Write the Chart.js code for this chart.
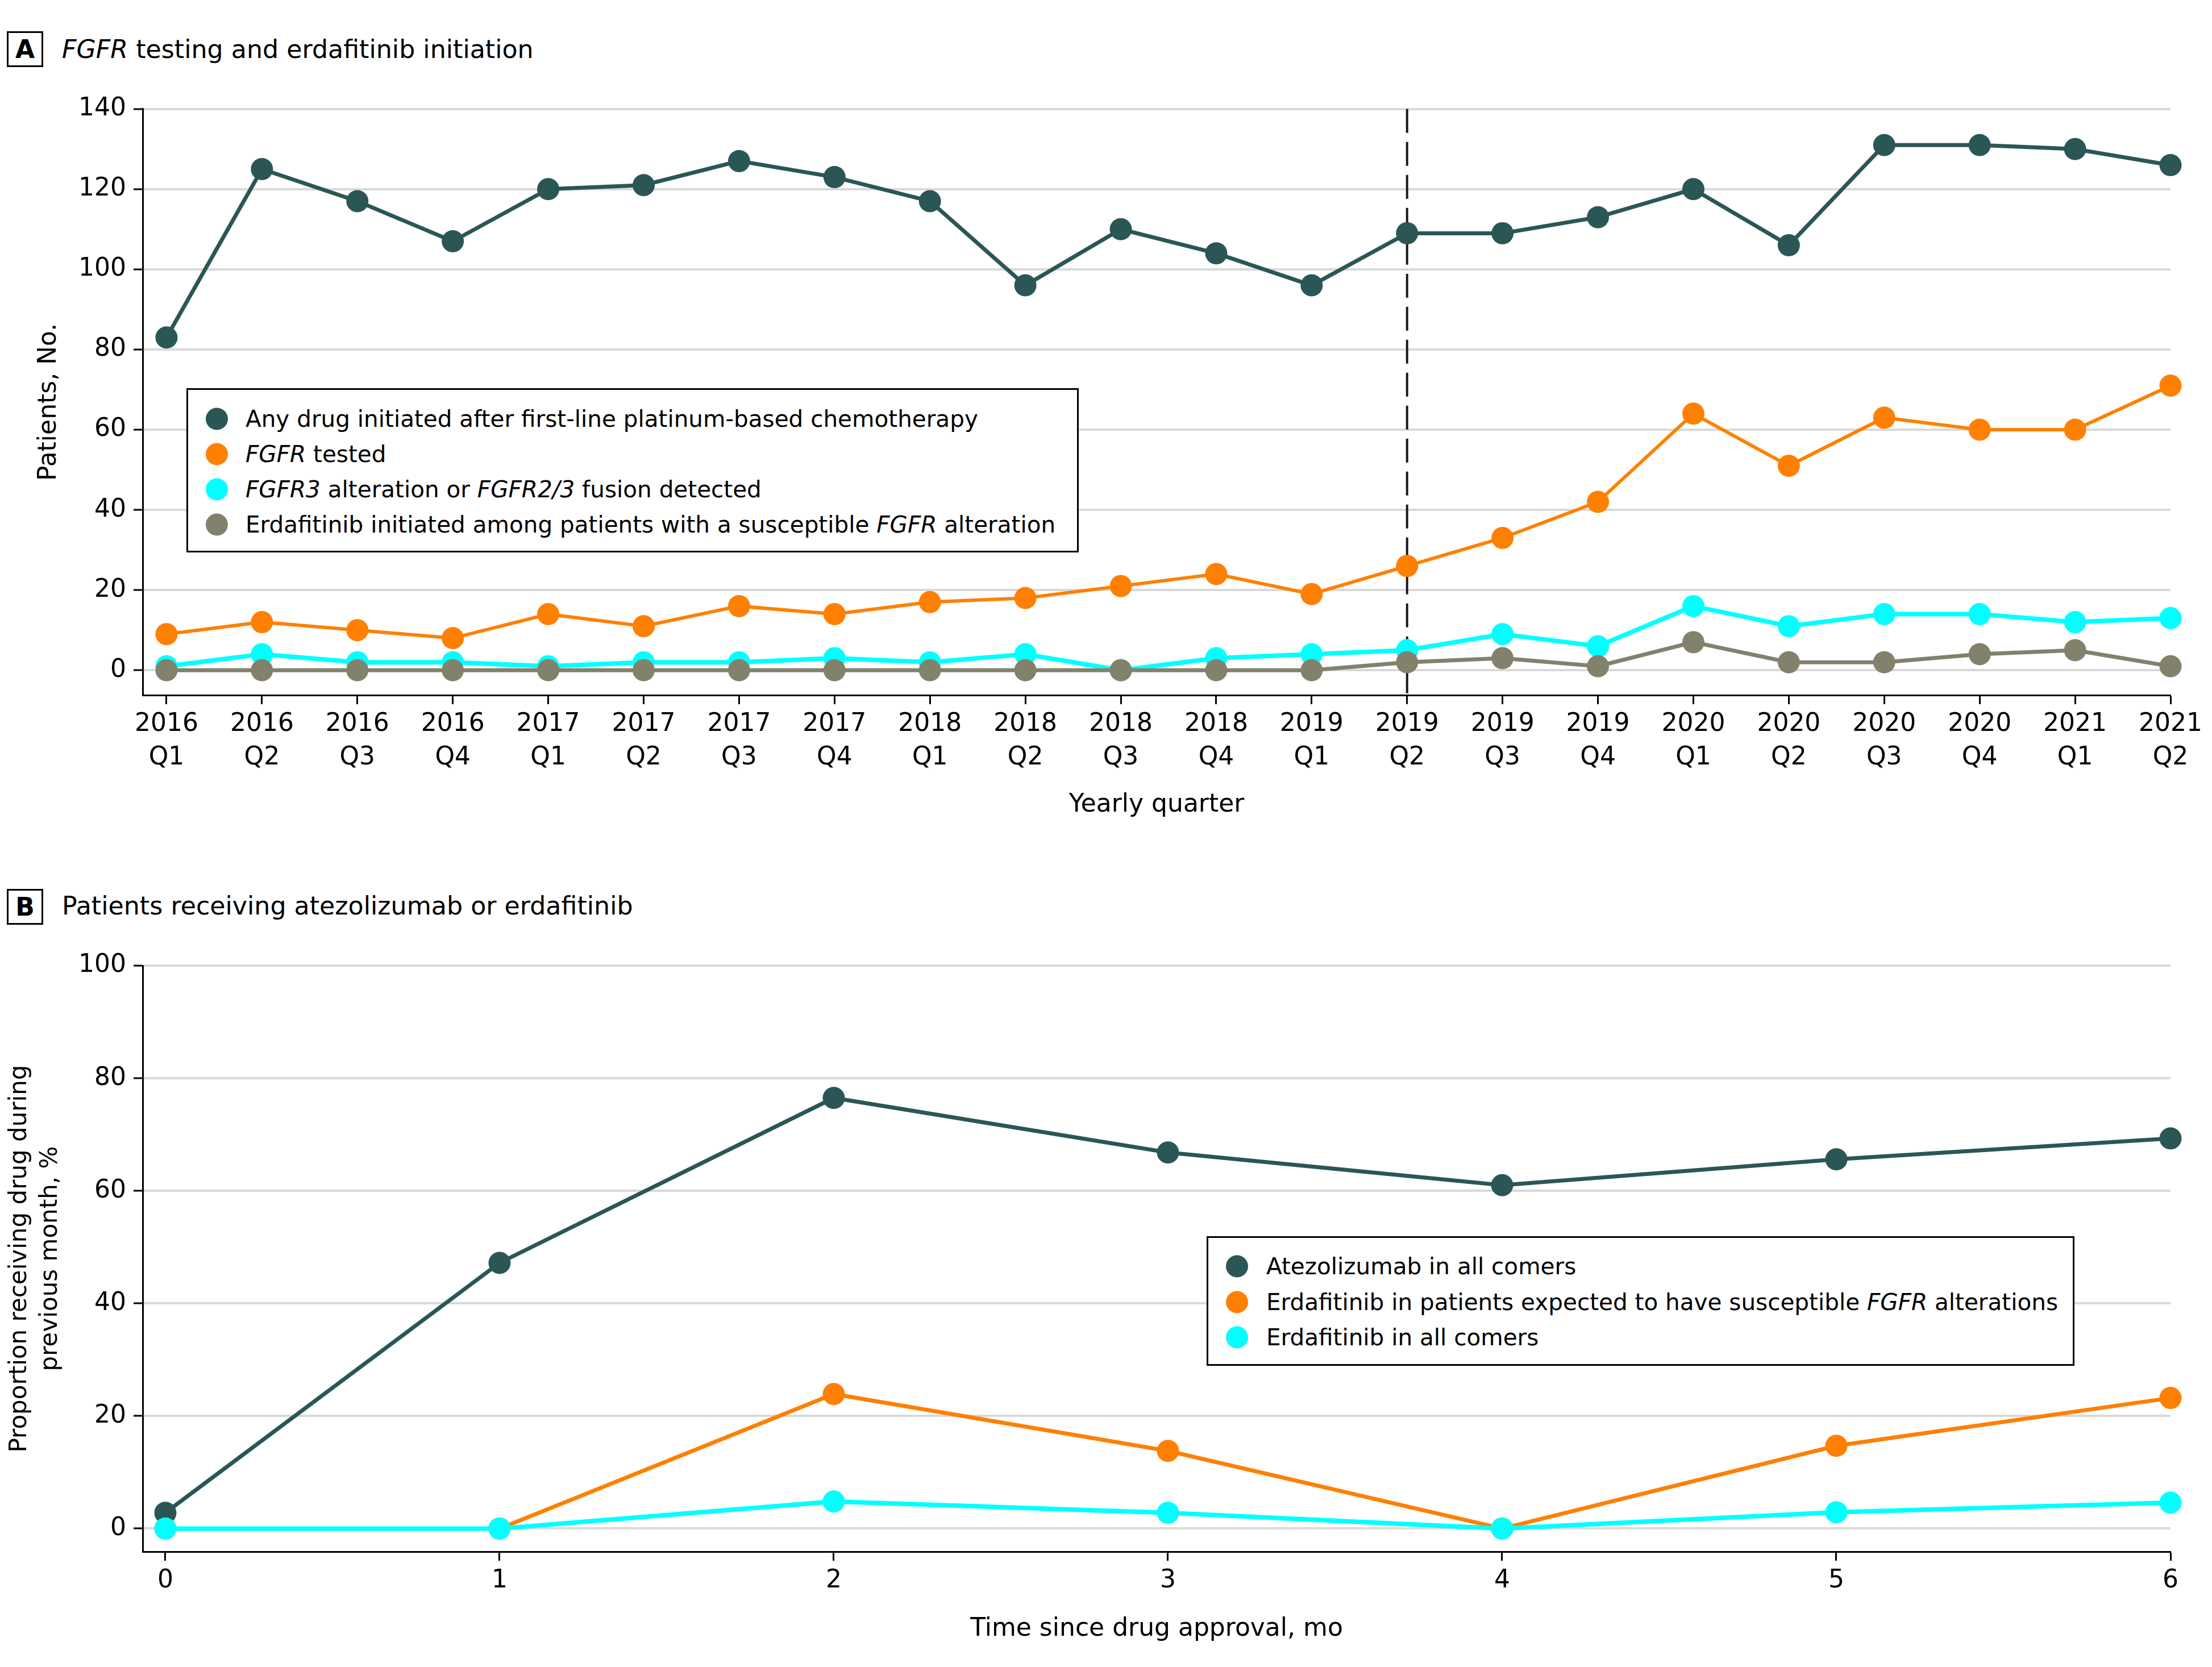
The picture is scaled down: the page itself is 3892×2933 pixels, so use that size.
<!DOCTYPE html>
<html lang="en">
<head>
<meta charset="utf-8">
<title>FGFR testing and erdafitinib initiation</title>
<script src="https://cdn.jsdelivr.net/npm/chart.js@4.4.1/dist/chart.umd.min.js"></script>
<style>
  html, body { margin: 0; padding: 0; background: #fff; }
  body { width: 3892px; height: 2933px; position: relative; overflow: hidden;
         font-family: 'DejaVu Sans', sans-serif; color: #000; }
  .tag { position: absolute; left: 12px; width: 58px; height: 57px; border: 3px solid #000;
         font-weight: bold; font-size: 44px; line-height: 57px; text-align: center; }
  .titulo { position: absolute; left: 109px; font-size: 44.3px; line-height: 52px; white-space: nowrap; }
  canvas { position: absolute; left: 0; }
  .leyenda { position: absolute; border: 3px solid #000; background: #fff; box-sizing: border-box; }
  .leyenda .item { position: absolute; font-size: 40.5px; line-height: 48px; white-space: nowrap;
                   transform: translateY(-50%); }
  .leyenda .punto { position: absolute; width: 39px; height: 39px; border-radius: 50%;
                    transform: translateY(-50%); }
</style>
</head>
<body>

<div class="tag" style="top:55px;">A</div>
<div class="titulo" style="top:61px;"><i>FGFR</i> testing and erdafitinib initiation</div>
<canvas id="graficoA" width="3892" height="1313" style="top:130px;"></canvas>
<div class="leyenda" style="left:328px; top:683px; width:1570px; height:289px;">
  <span class="punto" style="left:31px; top:51px; background:#2b5656;"></span>
  <span class="item" style="left:101px; top:51px;">Any drug initiated after first-line platinum-based chemotherapy</span>
  <span class="punto" style="left:31px; top:113px; background:#ff8000;"></span>
  <span class="item" style="left:101px; top:113px;"><i>FGFR</i> tested</span>
  <span class="punto" style="left:31px; top:175px; background:#00ffff;"></span>
  <span class="item" style="left:101px; top:175px;"><i>FGFR3</i> alteration or <i>FGFR2/3</i> fusion detected</span>
  <span class="punto" style="left:31px; top:237px; background:#82826c;"></span>
  <span class="item" style="left:101px; top:237px;">Erdafitinib initiated among patients with a susceptible <i>FGFR</i> alteration</span>
</div>

<div class="tag" style="top:1564px;">B</div>
<div class="titulo" style="top:1568px;">Patients receiving atezolizumab or erdafitinib</div>
<canvas id="graficoB" width="3892" height="1253" style="top:1640px;"></canvas>
<div class="leyenda" style="left:2123px; top:2175px; width:1527px; height:228px;">
  <span class="punto" style="left:31px; top:50px; background:#2b5656;"></span>
  <span class="item" style="left:102px; top:50px;">Atezolizumab in all comers</span>
  <span class="punto" style="left:31px; top:113px; background:#ff8000;"></span>
  <span class="item" style="left:102px; top:113px;">Erdafitinib in patients expected to have susceptible <i>FGFR</i> alterations</span>
  <span class="punto" style="left:31px; top:175px; background:#00ffff;"></span>
  <span class="item" style="left:102px; top:175px;">Erdafitinib in all comers</span>
</div>

<script>
/* ---------- Datos del panel A (pacientes por trimestre) ---------- */
var QUARTERS = [
  ['2016', 'Q1'], ['2016', 'Q2'], ['2016', 'Q3'], ['2016', 'Q4'],
  ['2017', 'Q1'], ['2017', 'Q2'], ['2017', 'Q3'], ['2017', 'Q4'],
  ['2018', 'Q1'], ['2018', 'Q2'], ['2018', 'Q3'], ['2018', 'Q4'],
  ['2019', 'Q1'], ['2019', 'Q2'], ['2019', 'Q3'], ['2019', 'Q4'],
  ['2020', 'Q1'], ['2020', 'Q2'], ['2020', 'Q3'], ['2020', 'Q4'],
  ['2021', 'Q1'], ['2021', 'Q2']
];
var ANY_DRUG = [83, 125, 117, 107, 120, 121, 127, 123, 117, 96, 110, 104, 96, 109, 109, 113, 120, 106, 131, 131, 130, 126];
var FGFR_TESTED = [9, 12, 10, 8, 14, 11, 16, 14, 17, 18, 21, 24, 19, 26, 33, 42, 64, 51, 63, 60, 60, 71];
var FGFR_DETECTED = [1, 4, 2, 2, 1, 2, 2, 3, 2, 4, 0, 3, 4, 5, 9, 6, 16, 11, 14, 14, 12, 13];
var ERDA_INITIATED = [0, 0, 0, 0, 0, 0, 0, 0, 0, 0, 0, 0, 0, 2, 3, 1, 7, 2, 2, 4, 5, 1];
var Y_TICKS_A = [0, 20, 40, 60, 80, 100, 120, 140];
var APPROVAL_QUARTER = '2019 Q2';

/* ---------- Datos del panel B (% que recibe el fármaco) ---------- */
var MONTHS = [0, 1, 2, 3, 4, 5, 6];
var ATEZO_ALL = [2.8, 47.2, 76.5, 66.8, 61, 65.6, 69.3];
var ERDA_SUSCEPTIBLE = [0, 0, 23.9, 13.8, 0, 14.7, 23.2];
var ERDA_ALL = [0, 0, 4.8, 2.8, 0, 2.9, 4.6];
var Y_TICKS_B = [0, 20, 40, 60, 80, 100];

(function () {
  'use strict';

  var OSCURO = '#2b5656';
  var NARANJA = '#ff8000';
  var CIAN = '#00ffff';
  var GRIS = '#82826c';
  var GRILLA = '#d9d9d9';

  Chart.defaults.font.family = "'DejaVu Sans', sans-serif";
  Chart.defaults.color = '#000';

  /* una serie con puntos grandes y línea recta */
  function serie(label, xs, values, color, orden, ancho) {
    return {
      label: label,
      data: values.map(function (v, i) { return { x: xs[i], y: v }; }),
      borderColor: color,
      backgroundColor: color,
      borderWidth: ancho,
      pointRadius: 19.5,
      pointHoverRadius: 19.5,
      pointBorderWidth: 0,
      pointBackgroundColor: color,
      tension: 0,
      fill: false,
      clip: false,
      order: orden
    };
  }

  function ejeX(min, max, valores, etiqueta, alto, titulo) {
    return {
      type: 'linear',
      min: min,
      max: max,
      afterBuildTicks: function (s) { s.ticks = valores.map(function (v) { return { value: v }; }); },
      afterFit: function (s) { s.height = alto; },
      ticks: {
        callback: etiqueta,
        autoSkip: false,
        maxRotation: 0,
        padding: 7,
        color: '#000',
        font: { size: 44, lineHeight: 1.32 }
      },
      grid: { drawOnChartArea: false, drawTicks: true, tickLength: 16, tickColor: '#000', tickWidth: 3 },
      border: { display: true, color: '#000', width: 3 },
      title: { display: true, text: titulo, color: '#000', padding: 0, font: { size: 44, lineHeight: 1.2 } }
    };
  }

  function ejeY(min, max, valores, titulo, tamTitulo, lineaTitulo, padTitulo) {
    return {
      type: 'linear',
      min: min,
      max: max,
      afterBuildTicks: function (s) { s.ticks = valores.map(function (v) { return { value: v }; }); },
      afterFit: function (s) { s.width = 251; },
      ticks: {
        callback: function (v) { return String(v); },
        padding: 13,
        color: '#000',
        font: { size: 44 }
      },
      grid: { color: GRILLA, lineWidth: 4, drawTicks: true, tickLength: 16, tickColor: '#000', tickWidth: 3 },
      border: { display: true, color: '#000', width: 3 },
      title: {
        display: true, text: titulo, color: '#000',
        padding: { top: padTitulo, bottom: 0 },
        font: { size: tamTitulo, lineHeight: lineaTitulo }
      }
    };
  }

  function opcionesBase(padTop, escalas) {
    return {
      responsive: false,
      devicePixelRatio: 1,
      animation: false,
      layout: { padding: { top: padTop, right: 73, bottom: 0, left: 0 } },
      plugins: { legend: { display: false }, tooltip: { enabled: false } },
      scales: escalas
    };
  }

  /* línea vertical punteada en el trimestre de aprobación */
  var idxAprobacion = QUARTERS.map(function (q) { return q.join(' '); }).indexOf(APPROVAL_QUARTER);
  var lineaAprobacion = {
    id: 'lineaAprobacion',
    beforeDatasetsDraw: function (chart) {
      var area = chart.chartArea;
      var x = chart.scales.x.getPixelForValue(idxAprobacion);
      var ctx = chart.ctx;
      ctx.save();
      ctx.strokeStyle = '#1a1a1a';
      ctx.lineWidth = 4;
      ctx.setLineDash([42, 16]);
      ctx.beginPath();
      ctx.moveTo(x, area.top);
      ctx.lineTo(x, area.bottom);
      ctx.stroke();
      ctx.restore();
    }
  };

  /* ---------- Panel A ---------- */
  var posA = QUARTERS.map(function (q, i) { return i; });
  new Chart(document.getElementById('graficoA'), {
    type: 'line',
    data: {
      datasets: [
        serie('Any drug initiated after first-line platinum-based chemotherapy', posA, ANY_DRUG, OSCURO, 4, 7),
        serie('FGFR tested', posA, FGFR_TESTED, NARANJA, 3, 6),
        serie('FGFR3 alteration or FGFR2/3 fusion detected', posA, FGFR_DETECTED, CIAN, 2, 8),
        serie('Erdafitinib initiated among patients with a susceptible FGFR alteration', posA, ERDA_INITIATED, GRIS, 1, 7)
      ]
    },
    options: opcionesBase(61.7, {
      x: ejeX(-0.25, QUARTERS.length - 1, posA, function (v) { return QUARTERS[v]; }, 220, 'Yearly quarter'),
      y: ejeY(-6.2, 140, Y_TICKS_A, 'Patients, No.', 44, 1.2, 60.6)
    }),
    plugins: [lineaAprobacion]
  });

  /* ---------- Panel B ---------- */
  new Chart(document.getElementById('graficoB'), {
    type: 'line',
    data: {
      datasets: [
        serie('Atezolizumab in all comers', MONTHS, ATEZO_ALL, OSCURO, 3, 7),
        serie('Erdafitinib in patients expected to have susceptible FGFR alterations', MONTHS, ERDA_SUSCEPTIBLE, NARANJA, 2, 7),
        serie('Erdafitinib in all comers', MONTHS, ERDA_ALL, CIAN, 1, 8)
      ]
    },
    options: opcionesBase(59, {
      x: ejeX(-0.068, 6, MONTHS, function (v) { return String(v); }, 163, 'Time since drug approval, mo'),
      y: ejeY(-4.1, 100, Y_TICKS_B, ['Proportion receiving drug during', 'previous month, %'], 42, 1.29, 8)
    })
  });
})();
</script>
</body>
</html>
